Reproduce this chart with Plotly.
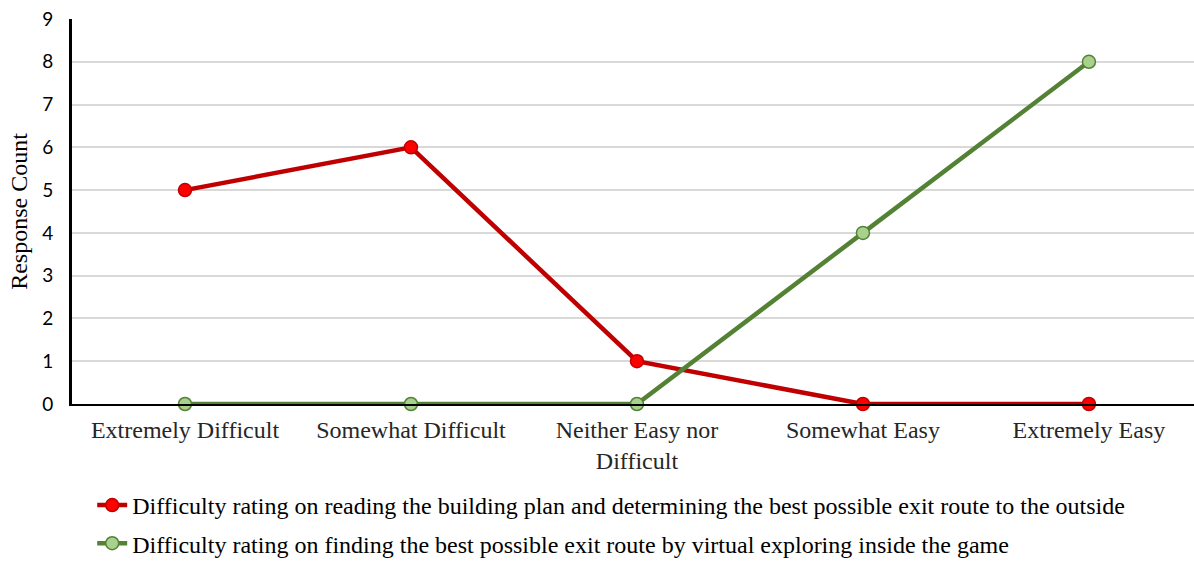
import plotly.graph_objects as go

categories = ["Extremely Difficult", "Somewhat Difficult", "Neither Easy nor<br>Difficult",
              "Somewhat Easy", "Extremely Easy"]
plan_values = [5, 6, 1, 0, 0]
game_values = [0, 0, 0, 4, 8]
plan_name = "Difficulty rating on reading the building plan and determining the best possible exit route to the outside"
game_name = "Difficulty rating on finding the best possible exit route by virtual exploring inside the game"
y_ticks = list(range(0, 10))

fig = go.Figure()
fig.add_trace(go.Scatter(
    x=categories, y=plan_values, name=plan_name, mode="lines+markers",
    line=dict(color="#c00000", width=4.5),
    marker=dict(size=13, color="#ff0000", line=dict(color="#c00000", width=1.5)),
    legendgroup="a", cliponaxis=False,
))
fig.add_trace(go.Scatter(
    x=categories, y=game_values, name=game_name, mode="lines+markers",
    line=dict(color="#548235", width=4.5),
    marker=dict(size=13, color="#a9d18e", line=dict(color="#548235", width=1.5)),
    legendgroup="b", cliponaxis=False,
))

fig.update_layout(
    width=1194, height=561,
    margin=dict(l=72, r=0, t=19, b=157, autoexpand=False),
    plot_bgcolor="white", paper_bgcolor="white",
    font=dict(family="Liberation Serif", size=24, color="#262626"),
    xaxis=dict(
        type="category", range=[-0.5, 4.465],
        showgrid=False, showline=True, linecolor="black", linewidth=2,
        ticks="", tickfont=dict(family="Liberation Serif", size=24, color="#262626"),
        zeroline=False, ticklabelstandoff=3,
    ),
    yaxis=dict(
        range=[0, 9], tickvals=y_ticks,
        showgrid=True, gridcolor="#d9d9d9", gridwidth=1.5,
        showline=True, linecolor="black", linewidth=3,
        ticks="", zeroline=False, ticklabelstandoff=12,
        tickfont=dict(family="Lato", size=19, color="#000000"),
        title=dict(text="Response Count", font=dict(family="Liberation Serif", size=24, color="#000000"), standoff=8),
    ),
    legend=dict(
        x=0.018, xanchor="left", y=-0.205, yanchor="top",
        font=dict(family="Liberation Serif", size=24, color="#000000"),
        tracegroupgap=4, traceorder="grouped", bgcolor="rgba(0,0,0,0)",
    ),
    showlegend=True,
)

fig.write_html("out.html")
